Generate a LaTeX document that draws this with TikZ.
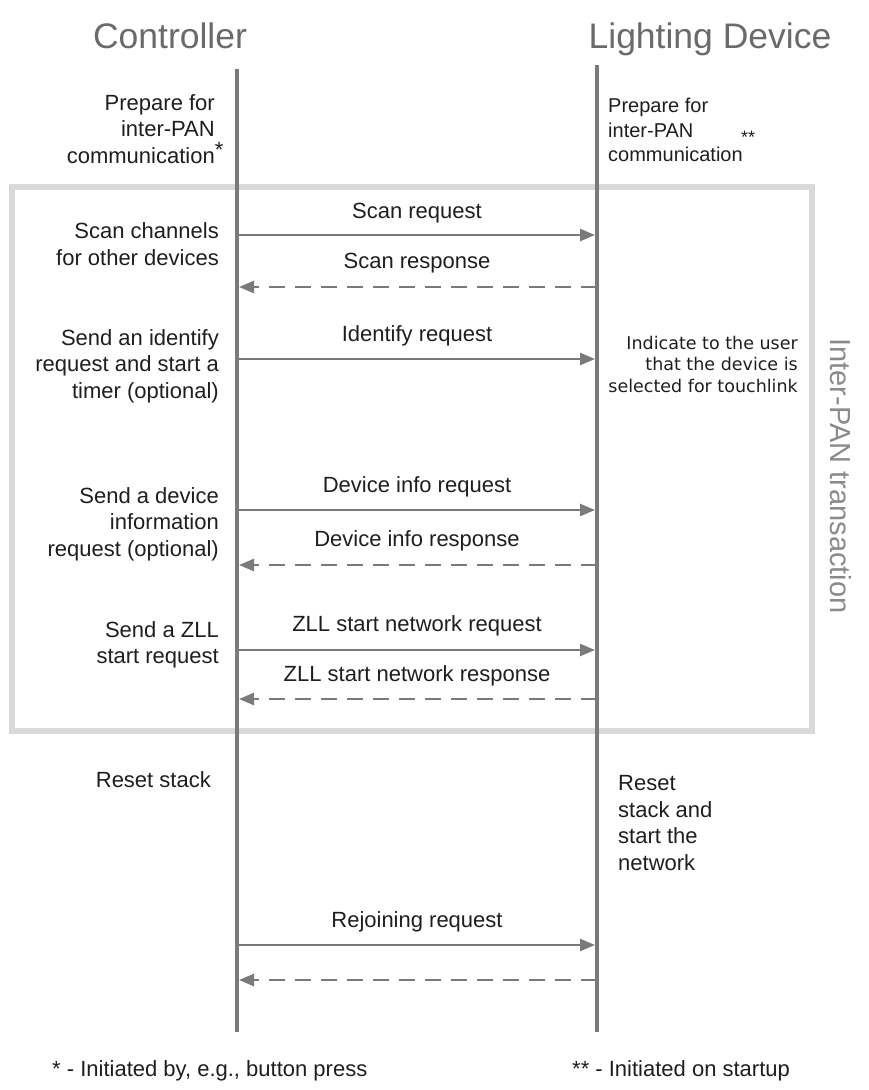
\documentclass[tikz,border=0pt]{standalone}
\usepackage{fontspec}
\setmainfont{Liberation Sans}
\newfontfamily\widefont{DejaVu Sans}
\usetikzlibrary{arrows.meta}
\definecolor{lifegray}{HTML}{7A7A7A}
\definecolor{framegray}{HTML}{D9D9D9}
\definecolor{headgray}{HTML}{6A6A6A}
\definecolor{sidegray}{HTML}{8A8A8A}
\definecolor{ink}{HTML}{1E1E1E}

\begin{document}
\begin{tikzpicture}[x=1pt,y=-1pt,
  lifeline/.style={draw=lifegray,line width=4pt},
  msg/.style={draw=lifegray,line width=2.5pt,shorten >=2pt,
    -{Triangle[length=15pt,width=12pt]}},
  reply/.style={msg,dash pattern=on 16pt off 10pt},
  head/.style={font=\fontsize{35.5}{40}\selectfont,text=headgray,inner sep=0pt,anchor=base},
  leftlbl/.style={font=\fontsize{22}{26.5}\selectfont,text=ink,inner sep=0pt,
    align=right,anchor=east},
  msglbl/.style={font=\fontsize{22}{26}\selectfont,text=ink,inner sep=0pt},
  rightlbl/.style={font=\fontsize{20}{24.5}\selectfont,text=ink,inner sep=0pt,
    align=left,anchor=west},
  notelbl/.style={font=\fontsize{22}{26}\selectfont,text=ink,inner sep=0pt,anchor=west}
]
\useasboundingbox (0,0) rectangle (868,1090);

% inter-PAN frame
\node[draw=framegray,line width=6pt,minimum width=800pt,minimum height=544pt,
  inner sep=0pt] (frame) at (412,459) {};
\node[font=\fontsize{29}{32}\selectfont,text=sidegray,rotate=-90,inner sep=0pt]
  (frametitle) at (841,476) {Inter-PAN transaction};

% participants
\node[head] (ctrl) at (170,48) {Controller};
\node[head] (dev) at (710,48) {Lighting Device};

\coordinate (ctop) at (237,69);
\coordinate (cbot) at (237,1032);
\coordinate (dtop) at (597,65);
\coordinate (dbot) at (597,1032);
\draw[lifeline] (ctop) -- (cbot);
\draw[lifeline] (dtop) -- (dbot);

% message end points on the lifelines
\foreach \n/\y in {scanq/235,scanr/287,idq/359,infoq/510,infor/565,
                   zllq/650,zllr/699,rejq/945,rejr/980}{
  \coordinate (c-\n) at (237,\y);
  \coordinate (d-\n) at (597,\y);
}

% messages
\draw[msg]   (c-scanq) -- (d-scanq);
\draw[reply] (d-scanr) -- (c-scanr);
\draw[msg]   (c-idq)   -- (d-idq);
\draw[msg]   (c-infoq) -- (d-infoq);
\draw[reply] (d-infor) -- (c-infor);
\draw[msg]   (c-zllq)  -- (d-zllq);
\draw[reply] (d-zllr)  -- (c-zllr);
\draw[msg]   (c-rejq)  -- (d-rejq);
\draw[reply] (d-rejr)  -- (c-rejr);

% message labels
\node[msglbl] (l-scanq) at (417,213) {Scan request};
\node[msglbl] (l-scanr) at (417,263) {Scan response};
\node[msglbl] (l-idq)   at (417,336) {Identify request};
\node[msglbl] (l-infoq) at (417,487) {Device info request};
\node[msglbl] (l-infor) at (417,541) {Device info response};
\node[msglbl] (l-zllq)  at (417,626) {ZLL start network request};
\node[msglbl] (l-zllr)  at (417,676) {ZLL start network response};
\node[msglbl] (l-rejq)  at (417,922) {Rejoining request};

% controller side steps
\node[leftlbl] (s-prep) at (215,129)
  {Prepare for\\inter-PAN\\communication\rlap{\raisebox{6pt}{*}}};
\node[leftlbl] (s-scan) at (219,244) {Scan channels\\for other devices};
\node[leftlbl] (s-ident) at (219,366) {Send an identify\\request and start a\\timer (optional)};
\node[leftlbl] (s-info) at (219,524) {Send a device\\information\\request (optional)};
\node[leftlbl] (s-zll) at (219,645) {Send a ZLL\\start request};
\node[leftlbl] (s-reset) at (211,780) {Reset stack};

% lighting device side steps
\node[rightlbl] (r-prep) at (608,130) {Prepare for\\inter-PAN\\communication};
\node[font=\fontsize{18}{20}\selectfont,text=ink,inner sep=0pt] (r-star) at (748,137) {**};
\node[font=\widefont\fontsize{17.5}{21.5}\selectfont,text=ink,inner sep=0pt,
  align=right,anchor=east] (r-ident) at (798,364)
  {Indicate to the user\\that the device is\\selected for touchlink};
\node[font=\fontsize{22}{26.7}\selectfont,text=ink,inner sep=0pt,align=left,anchor=west]
  (r-reset) at (618,823) {Reset\\stack and\\start the\\network};

% footnotes
\node[notelbl] (n-one) at (52,1071) {* - Initiated by, e.g., button press};
\node[notelbl] (n-two) at (572,1071) {** - Initiated on startup};
\end{tikzpicture}
\end{document}
